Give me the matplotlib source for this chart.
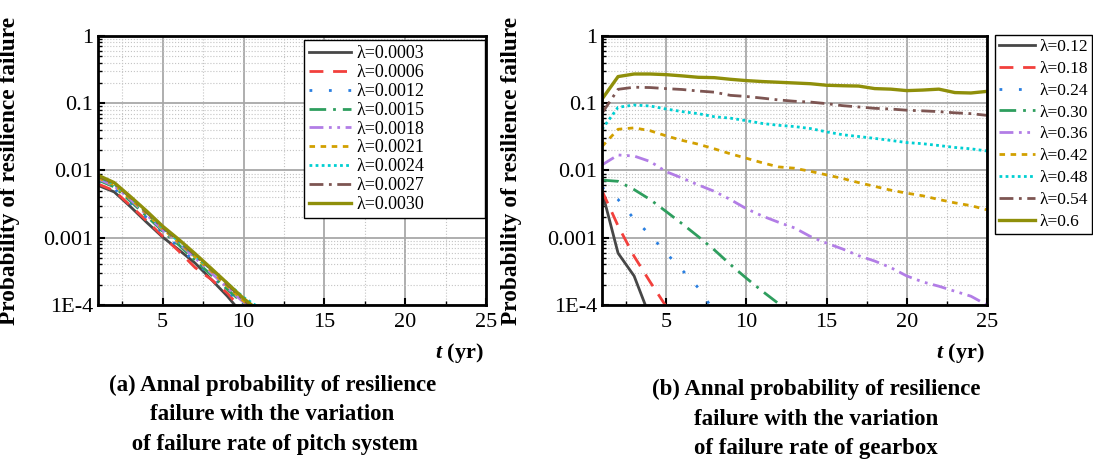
import numpy as np
import matplotlib
matplotlib.use('Agg')
import matplotlib.pyplot as plt
from matplotlib.ticker import FixedLocator, FixedFormatter, MultipleLocator

plt.rcParams['font.family'] = ['Liberation Serif', 'DejaVu Serif']
plt.rcParams['mathtext.fontset'] = 'custom'
plt.rcParams['mathtext.it'] = 'Liberation Serif:italic:bold'
plt.rcParams['mathtext.rm'] = 'Liberation Serif:bold'

# pitch system: failure rate and yearly probability of resilience failure
years_a = np.arange(1, 12)
lam_a = ['0.0003', '0.0006', '0.0012', '0.0015', '0.0018', '0.0021', '0.0024', '0.0027', '0.0030']
p_a_0003 = [0.0060, 0.0048, 0.0029, 0.0017, 0.00102, 0.00066, 0.00042, 0.00024, 0.000135, 0.00007, 0.00004]
p_a_0006 = [0.0063, 0.0050, 0.0030, 0.0018, 0.00105, 0.00063, 0.00036, 0.00024, 0.00015, 0.00008, 0.00004]
p_a_0012 = [0.0068, 0.0054, 0.0033, 0.0020, 0.00118, 0.00072, 0.00044, 0.00027, 0.000165, 0.00009, 0.00005]
p_a_0015 = [0.0072, 0.0057, 0.0035, 0.0021, 0.00125, 0.00078, 0.00046, 0.00028, 0.00017, 0.000105, 0.00006]
p_a_0018 = [0.0075, 0.0059, 0.0037, 0.0022, 0.00130, 0.00082, 0.00050, 0.00030, 0.00018, 0.000110, 0.00007]
p_a_0021 = [0.0078, 0.0061, 0.0038, 0.0023, 0.00135, 0.00085, 0.00052, 0.00032, 0.00019, 0.000115, 0.00007]
p_a_0024 = [0.0080, 0.0063, 0.0040, 0.0024, 0.00140, 0.00088, 0.00054, 0.00034, 0.00021, 0.000130, 0.00009]
p_a_0027 = [0.0082, 0.0064, 0.0040, 0.0024, 0.00142, 0.00090, 0.00055, 0.00034, 0.00020, 0.000120, 0.00007]
p_a_0030 = [0.0085, 0.0066, 0.0041, 0.0025, 0.00148, 0.00094, 0.00058, 0.00035, 0.00021, 0.000125, 0.00008]
series_a = [p_a_0003, p_a_0006, p_a_0012, p_a_0015, p_a_0018, p_a_0021, p_a_0024, p_a_0027, p_a_0030]

# gearbox
years_b = np.arange(1, 26)
lam_b = ['0.12', '0.18', '0.24', '0.30', '0.36', '0.42', '0.48', '0.54', '0.6']
p_b_012 = [0.0049, 0.00059, 0.00027, 0.000065]
p_b_018 = [0.0050, 0.0015, 0.00053, 0.00022, 0.000095]
p_b_024 = [0.0056, 0.0037, 0.0019, 0.0011, 0.00059, 0.00033, 0.00018, 0.00008]
p_b_030 = [0.0072, 0.0069, 0.0052, 0.0037, 0.00245, 0.00161, 0.00104, 0.00066, 0.0004, 0.00025,
           0.00016, 0.000105, 0.00006]
p_b_036 = [0.0121, 0.0170, 0.0164, 0.0136, 0.0096, 0.0077, 0.0061, 0.0049, 0.0037, 0.0027,
           0.0021, 0.0017, 0.0014, 0.00104, 0.00083, 0.00068, 0.00054, 0.00045, 0.00036, 0.00027,
           0.00022, 0.00019, 0.00016, 0.000135, 0.0001]
p_b_042 = [0.0227, 0.041, 0.043, 0.039, 0.0327, 0.028, 0.0246, 0.021, 0.0177, 0.0152,
           0.0130, 0.0113, 0.0108, 0.0097, 0.0086, 0.0076, 0.0066, 0.0058, 0.0051, 0.0046,
           0.0042, 0.0037, 0.0033, 0.0030, 0.0026]
p_b_048 = [0.041, 0.087, 0.094, 0.091, 0.082, 0.075, 0.070, 0.063, 0.060, 0.055,
           0.050, 0.047, 0.045, 0.042, 0.0375, 0.034, 0.032, 0.030, 0.028, 0.026,
           0.025, 0.0235, 0.022, 0.021, 0.0195]
p_b_054 = [0.071, 0.161, 0.173, 0.171, 0.165, 0.160, 0.152, 0.146, 0.131, 0.126,
           0.119, 0.112, 0.107, 0.104, 0.0986, 0.092, 0.088, 0.084, 0.082, 0.0787,
           0.077, 0.075, 0.072, 0.070, 0.066]
p_b_060 = [0.115, 0.249, 0.272, 0.272, 0.266, 0.255, 0.243, 0.240, 0.227, 0.217,
           0.210, 0.205, 0.200, 0.195, 0.185, 0.182, 0.180, 0.165, 0.162, 0.154,
           0.157, 0.162, 0.144, 0.142, 0.150]
series_b = [p_b_012, p_b_018, p_b_024, p_b_030, p_b_036, p_b_042, p_b_048, p_b_054, p_b_060]

colors = ['#474747', '#f2403c', '#2a7fe0', '#2e9e5e', '#b27de6', '#d2a000', '#00cfd2', '#7d5552', '#8f8f0a']
styles = ['-', (0, (5, 3.5)), (0, (1, 6)), (0, (6, 2.5, 1, 2.5)), (0, (5, 2, 1, 2, 1, 2)),
          (0, (2, 2)), (0, (1, 1.2)), (0, (5, 2, 1, 2)), '-']
widths = [2, 2, 2, 2, 2, 2, 2, 2, 2.4]

fig = plt.figure(figsize=(10.93, 4.63), dpi=100)
ax_a = fig.add_axes([0.0897, 0.3413, 0.355, 0.581])
ax_b = fig.add_axes([0.5508, 0.3413, 0.3522, 0.581])


def style_axis(ax):
    ax.set_yscale('log')
    ax.set_xlim(1, 25)
    ax.set_ylim(1e-4, 1)
    ax.xaxis.set_major_locator(FixedLocator([5, 10, 15, 20, 25]))
    ax.xaxis.set_minor_locator(MultipleLocator(2.5))
    ax.yaxis.set_major_locator(FixedLocator([1e-4, 1e-3, 1e-2, 1e-1, 1]))
    ax.yaxis.set_major_formatter(FixedFormatter(['1E-4', '0.001', '0.01', '0.1', '1']))
    ax.yaxis.set_minor_locator(matplotlib.ticker.LogLocator(base=10, subs=np.arange(2, 10)))
    ax.yaxis.set_minor_formatter(matplotlib.ticker.NullFormatter())
    ax.grid(which='major', color='#a8a8a8', linestyle='-', linewidth=1.3)
    ax.grid(which='minor', color='#c4c4c4', linestyle=':', linewidth=0.8)
    ax.set_axisbelow(True)
    ax.tick_params(which='major', direction='in', length=5, width=1.5, labelsize=16)
    ax.tick_params(which='minor', direction='in', length=3, width=1)
    ax.tick_params(axis='x', pad=6)
    for s in ax.spines.values():
        s.set_linewidth(2)
    ax.set_ylabel('Probability of resilience failure', fontsize=16.8, fontweight='bold')
    ax.yaxis.set_label_coords(-0.2, 0.5)
    ax.set_xlabel(r'$t$ (yr)', fontsize=16, fontweight='bold')
    ax.xaxis.set_label_coords(0.93, -0.135)


for vals, lam, c, ls, lw in zip(series_a, lam_a, colors, styles, widths):
    ax_a.plot(years_a, vals, color=c, linestyle=ls, linewidth=lw, label='λ=' + lam)
for vals, lam, c, ls, lw in zip(series_b, lam_b, colors, styles, widths):
    ax_b.plot(years_b[:len(vals)], vals, color=c, linestyle=ls, linewidth=lw, label='λ=' + lam)

style_axis(ax_a)
style_axis(ax_b)
ax_b.yaxis.set_label_coords(-0.208, 0.5)

leg_a = ax_a.legend(loc='upper left', bbox_to_anchor=(0.531, 0.0, 0.466, 0.985), mode='expand',
                    borderaxespad=0, fontsize=13, handlelength=2.3, labelspacing=0.1,
                    borderpad=0.3, handletextpad=0.3, fancybox=False,
                    framealpha=1, edgecolor='black')
leg_a.get_frame().set_linewidth(1)
leg_b = ax_b.legend(loc='upper left', bbox_to_anchor=(1.021, 1.004), borderaxespad=0,
                    fontsize=12.5, handlelength=2.1, labelspacing=0.33, borderpad=0.22,
                    handletextpad=0.22, fancybox=False, framealpha=1, edgecolor='black')
leg_b.get_frame().set_linewidth(1)

cap_a = '(a) Annal probability of resilience\nfailure with the variation\n of failure rate of pitch system'
cap_b = '(b) Annal probability of resilience\nfailure with the variation\nof failure rate of gearbox'
fig.text(0.249, 0.104, cap_a, ha='center', va='center', fontsize=16.5, fontweight='bold', linespacing=1.55)
fig.text(0.7466, 0.095, cap_b, ha='center', va='center', fontsize=16.5, fontweight='bold', linespacing=1.55)

fig.savefig('out.png', dpi=100)
